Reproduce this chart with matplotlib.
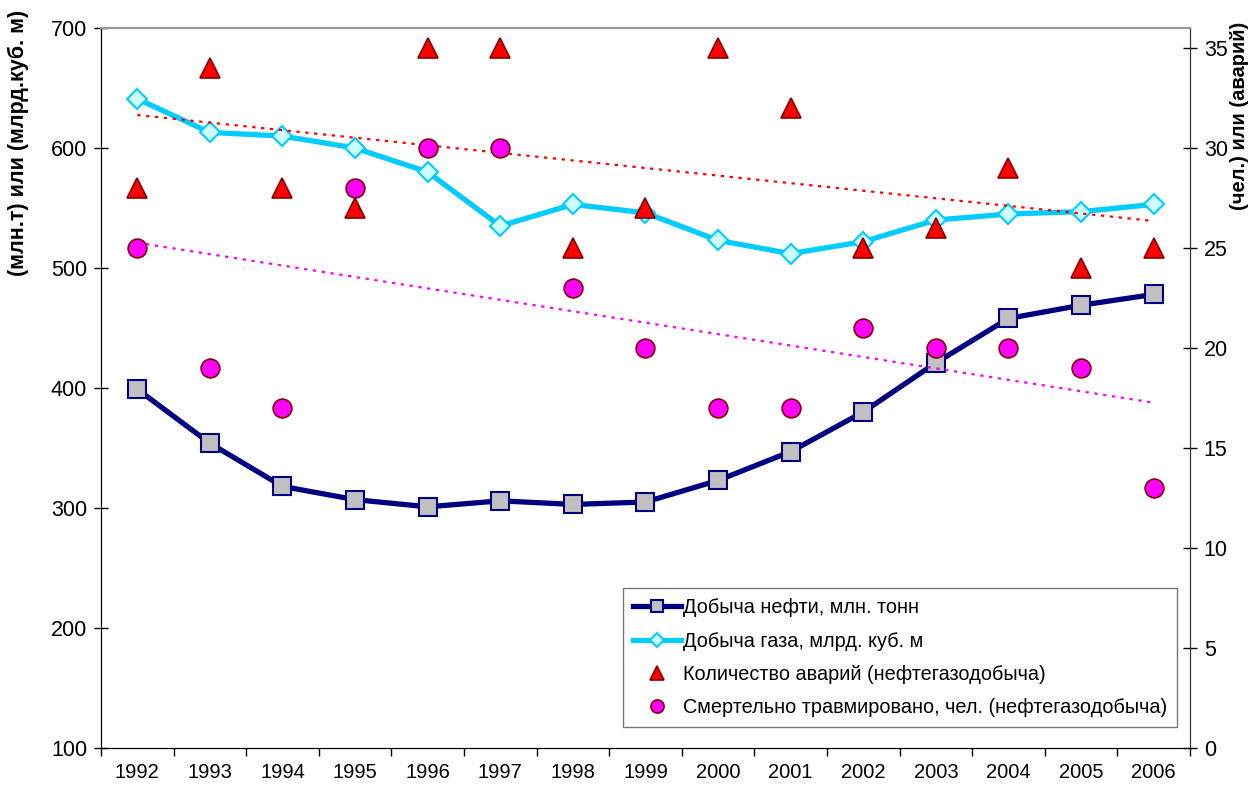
import matplotlib.pyplot as plt
import numpy as np

plt.rcParams['font.family'] = ['Liberation Sans', 'DejaVu Sans']

years = [1992, 1993, 1994, 1995, 1996, 1997, 1998, 1999, 2000, 2001, 2002, 2003, 2004, 2005, 2006]
oil = [399, 354, 318, 307, 301, 306, 303, 305, 323, 347, 380, 421, 458, 469, 478]
gas = [641, 613, 610, 600, 580, 535, 553, 546, 523, 512, 522, 540, 545, 547, 553]
accidents = [28, 34, 28, 27, 35, 35, 25, 27, 35, 32, 25, 26, 29, 24, 25]
deaths = [25, 19, 17, 28, 30, 30, 23, 20, 17, 17, 21, 20, 20, 19, 13]

x = np.array(years)

fig = plt.figure(figsize=(12.51, 7.85), dpi=100)
ax = fig.add_axes([0.0807, 0.0471, 0.8705, 0.9172])
ax2 = ax.twinx()

# left axis: production
l1, = ax.plot(x, oil, color="#000080", lw=3.8, marker="s", ms=13,
              mfc="#C0C0C0", mec="#000080", mew=1.5, label="Добыча нефти, млн. тонн")
l2, = ax.plot(x, gas, color="#00CCFF", lw=3.8, marker="D", ms=10,
              mfc="#CCFFFF", mec="#00CCFF", mew=1.5, label="Добыча газа, млрд. куб. м")

# right axis: accidents and deaths + linear trends
k1, b1 = np.polyfit(x, accidents, 1)
k2, b2 = np.polyfit(x, deaths, 1)
ax2.plot(x, k1 * x + b1, color="red", lw=1.6, ls=(0, (1.5, 2.5)))
ax2.plot(x, k2 * x + b2, color="magenta", lw=1.6, ls=(0, (1.5, 2.5)))
s1, = ax2.plot(x, accidents, ls="none", marker="^", ms=15, mfc="red", mec="#800000", mew=1.2,
               label="Количество аварий (нефтегазодобыча)")
s2, = ax2.plot(x, deaths, ls="none", marker="o", ms=13.5, mfc="magenta", mec="#800000", mew=1.2,
               label="Смертельно травмировано, чел. (нефтегазодобыча)")

ax.set_xlim(1991.5, 2006.5)
ax.set_ylim(100, 700)
ax.set_yticks(range(100, 701, 100))
ax2.set_ylim(0, 36)
ax2.set_yticks(range(0, 36, 5))

ax.set_xticks(np.arange(1991.5, 2007, 1))
ax.set_xticklabels([])
ax.set_xticks(x, minor=True)
ax.set_xticklabels([str(y) for y in years], minor=True)
ax.tick_params(axis="x", which="major", direction="out", length=6, width=1)
ax.tick_params(axis="x", which="minor", length=0, labelsize=14.5, pad=11)
ax.tick_params(axis="y", direction="inout", length=10, width=1, labelsize=15.5, pad=5)
ax2.tick_params(axis="y", direction="inout", length=10, width=1, labelsize=15.5, pad=5)

for a in (ax, ax2):
    a.spines["top"].set_color("#999999")
    a.spines["top"].set_linewidth(1.5)
    a.spines["left"].set_color("black")
    a.spines["right"].set_color("#333333")
    a.spines["bottom"].set_color("black")

fig.text(0.0144, 0.988, "(млн.т) или (млрд.куб. м)", rotation=90, va="top", ha="center",
         fontsize=15.5, fontweight="bold")
fig.text(0.9905, 0.972, "(чел.) или (аварий)", rotation=90, va="top", ha="center",
         fontsize=14.5, fontweight="bold")

leg = ax2.legend(handles=[l1, l2, s1, s2], loc="lower right", bbox_to_anchor=(0.988, 0.029),
                 borderaxespad=0, fontsize=14.3, frameon=True, fancybox=False, handlelength=2.4,
                 handletextpad=0.1, labelspacing=0.72, borderpad=0.5, markerscale=0.7)
leg.get_frame().set_edgecolor("#555555")
leg.get_frame().set_linewidth(1)

fig.savefig("out.png", dpi=100)
